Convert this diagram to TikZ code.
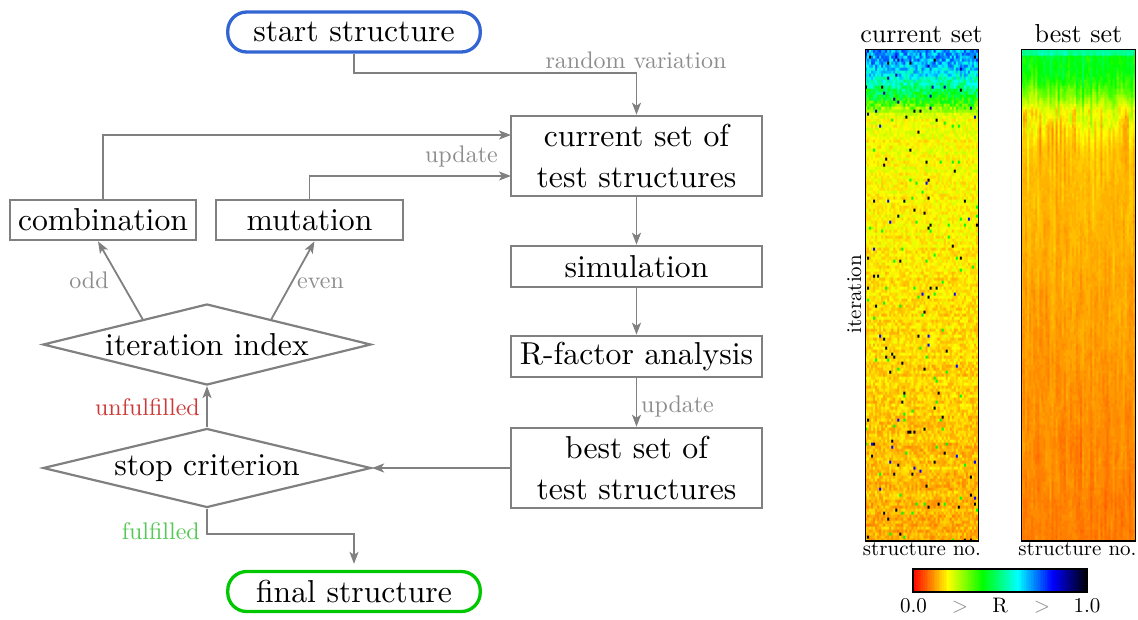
\documentclass[tikz,border=0pt]{standalone}
\usepackage{fontspec}
\setmainfont{lmroman10-regular.otf}
\usetikzlibrary{shapes.geometric,arrows.meta,calc}
\definecolor{lgray}{RGB}{128,128,128}
\definecolor{tgray}{RGB}{140,140,140}
\definecolor{sblue}{RGB}{50,100,210}
\definecolor{fgreen}{RGB}{0,200,0}
\definecolor{ured}{RGB}{205,55,55}
\definecolor{fulgreen}{RGB}{85,200,85}
\newcommand\fmain{\fontsize{31.7}{41}\selectfont}
\newcommand\flab{\fontsize{24}{28}\selectfont}
\newcommand\fhead{\fontsize{26}{30}\selectfont}
\newcommand\fsmall{\fontsize{21}{25}\selectfont}
\newcommand\hexdigit[1]{\ifcase#1 0\or 1\or 2\or 3\or 4\or 5\or 6\or 7\or 8\or 9\or A\or B\or C\or D\or E\or F\fi}
% colour map palette cm0 ... cm100 and hex strings hx0 ... hx100
\newcount\palk
\palk=0
\loop
  \pgfmathsetmacro\palv{\the\palk/100}
  \pgfmathsetmacro\palr{max(0,min(1,2-5*\palv))}
  \pgfmathsetmacro\palg{min(max(0,min(1,5*\palv)),max(0,min(1,4-5*\palv)))}
  \pgfmathsetmacro\palb{min(max(0,min(1,5*\palv-2)),max(0,min(1,5-5*\palv)))}
  \edef\tmpdef{\noexpand\definecolor{cm\the\palk}{rgb}{\palr,\palg,\palb}}\tmpdef
  \pgfmathtruncatemacro\pR{round(\palr*255)}
  \pgfmathtruncatemacro\pG{round(\palg*255)}
  \pgfmathtruncatemacro\pB{round(\palb*255)}
  \pgfmathtruncatemacro\pRh{floor(\pR/16)}\pgfmathtruncatemacro\pRl{\pR-16*\pRh}
  \pgfmathtruncatemacro\pGh{floor(\pG/16)}\pgfmathtruncatemacro\pGl{\pG-16*\pGh}
  \pgfmathtruncatemacro\pBh{floor(\pB/16)}\pgfmathtruncatemacro\pBl{\pB-16*\pBh}
  \expandafter\xdef\csname hx\the\palk\endcsname{\hexdigit{\pRh}\hexdigit{\pRl}\hexdigit{\pGh}\hexdigit{\pGl}\hexdigit{\pBh}\hexdigit{\pBl}}
  \advance\palk by 1
\ifnum\palk<101 \repeat
\makeatletter
% #1 x, #2 y (lower left, pt), #3 width, #4 height (pt), #5 cols, #6 rows, #7 hex data
\newcommand\putimage[7]{%
  \pgfmathsetmacro\imx{#1*0.996264}%
  \pgfmathsetmacro\imy{#2*0.996264}%
  \pgfmathsetmacro\imw{#3*0.996264}%
  \pgfmathsetmacro\imh{#4*0.996264}%
  \edef\imgcmd{q \imw\space 0 0 \imh\space \imx\space \imy\space cm BI /W #5 /H #6 /CS /RGB /BPC 8 /I false /F /AHx ID #7> EI Q}%
  \expandafter\pgfsys@invoke\expandafter{\imgcmd}}
\makeatother
\begin{document}
\begin{tikzpicture}[x=1pt,y=-1pt,
  box/.style={draw=lgray, line width=2.6pt, inner sep=0pt, font=\fmain, align=center, minimum width=251pt},
  term/.style={rounded corners=19pt, line width=3.3pt, inner sep=0pt, minimum width=252.5pt, minimum height=40pt, font=\fmain},
  dia/.style={diamond, draw=lgray, line width=2.2pt, inner sep=0pt},
  conn/.style={draw=lgray, line width=1.8pt},
  arr/.style={conn, -{Stealth[length=12pt,width=9pt,inset=3pt]}},
  glabel/.style={text=tgray, font=\flab, inner sep=0pt},
  hlabel/.style={font=\fsmall, inner sep=0pt}
]
\useasboundingbox (0,0) rectangle (1138,619);

% ---------- flowchart ----------
\node[term, draw=sblue] (start) at (354,32) {start structure};
\node[box, minimum height=80pt] (cur) at (636.5,156) {current set of\\test structures};
\node[box, minimum height=41pt] (sim) at (636.5,266.5) {simulation};
\node[box, minimum height=41pt] (rf) at (636.5,356.5) {R-factor analysis};
\node[box, minimum height=80pt] (best) at (636.5,468) {best set of\\test structures};
\node[box, minimum width=186pt, minimum height=40pt] (comb) at (103,220) {combination};
\node[box, minimum width=187pt, minimum height=40pt] (mut) at (309.5,220) {mutation};
\node[dia, minimum width=328pt, minimum height=81pt, label={[font=\fmain]center:iteration index}] (iter) at (207,344.5) {};
\node[dia, minimum width=328pt, minimum height=79pt, label={[font=\fmain]center:stop criterion}] (stop) at (207,468) {};
\node[term, draw=fgreen] (final) at (354,591.5) {final structure};

\coordinate (rv) at (636.5,73);
\draw[arr] (start.south) |- (rv) -- (cur.north);
\node[glabel, anchor=base] (rvl) at (636,68) {random variation};

\coordinate (ci1) at (511,135);
\coordinate (ci2) at (511,176);
\draw[arr] (comb.north) |- (ci1);
\draw[arr] (mut.north) |- (ci2);
\node[glabel, anchor=base east] (upd1) at (498,162) {update};

\draw[arr] (cur) -- (sim);
\draw[arr] (sim) -- (rf);
\draw[arr] (rf) -- (best);
\node[glabel, anchor=base west] (upd2) at (641,412) {update};

\draw[arr] (best.west) -- (stop.east);
\draw[arr] (stop.north) -- (iter.south);
\node[text=ured, font=\flab, inner sep=0pt, anchor=base east] (unf) at (200,415) {unfulfilled};

\coordinate (o1) at ($(iter.north)!0.39!(iter.west)$);
\coordinate (o2) at ([xshift=-5pt]comb.south);
\draw[arr] (o1) -- (o2);
\coordinate (e1) at ($(iter.north)!0.39!(iter.east)$);
\coordinate (e2) at ([xshift=5pt]mut.south);
\draw[arr] (e1) -- (e2);
\node[glabel, anchor=base] (odd) at (89,288) {odd};
\node[glabel, anchor=base west] (even) at (297,288) {even};

\coordinate (fc) at (354,534);
\draw[arr, shorten >=6pt] (stop.south) |- (fc) -- (final.north);
\node[text=fulgreen, font=\flab, inner sep=0pt, anchor=base east] (ful) at (200,539) {fulfilled};

% ---------- heat map: current set (inline image, 56 x 164 cells, pixels doubled) ----------
\pgfmathsetseed{2024}
\gdef\imgA{}
\foreach \row in {0,...,163}{
  \pgfmathsetmacro\hd{\row*3}
  \pgfmathsetmacro\hm{(\hd<10?0.68:(\hd<25?0.68-(\hd-10)*0.0053:(\hd<35?0.6-(\hd-25)*0.01:(\hd<45?0.5-(\hd-35)*0.006:(\hd<58?0.44-(\hd-45)*0.0108:(\hd<65?0.3-(\hd-58)*0.0114:0.21-(\hd-65)*0.000164))))))+(rnd-0.5)*0.025}
  \pgfmathsetmacro\hamp{\hd<58?0.18:0.07}
  \gdef\rowstr{}
  \foreach \col in {0,...,55}{
    \pgfmathsetmacro\hp{rnd}
    \pgfmathsetmacro\hv{\hp<0.009?1:(\hp<0.022?(\hd<65?0.86:(\hp<0.013?0.8:0.4)):\hm+(rnd-0.5)*\hamp)}
    \pgfmathtruncatemacro\hk{max(0,min(100,round(\hv*100)))}
    \xdef\rowstr{\rowstr\csname hx\hk\endcsname\csname hx\hk\endcsname}
  }
  \xdef\imgA{\imgA\rowstr\rowstr}
}
\putimage{866}{-541}{112}{491}{112}{328}{\imgA}
\draw[black, line width=1.3pt] (865.5,49.5) rectangle (978.5,541);

% ---------- heat map: best set (inline image, 56 x 164 cells, pixels doubled) ----------
\foreach \col in {0,...,55}{\expandafter\xdef\csname bo\col\endcsname{0}}
\gdef\imgB{}
\foreach \row in {0,...,163}{
  \pgfmathsetmacro\hd{\row*3}
  \pgfmathsetmacro\hm{\hd<5?0.52:(\hd<25?0.42-(\hd-5)*0.001:(\hd<45?0.40-(\hd-25)*0.005:(\hd<60?0.30-(\hd-45)*0.0067:(\hd<100?0.20-(\hd-60)*0.00125:0.15-(\hd-100)*0.00014))))}
  \pgfmathsetmacro\hamp{\hd<80?0.05:0.014}
  \gdef\rowstr{}
  \foreach \col in {0,...,55}{
    \edef\bprev{\csname bo\col\endcsname}
    \pgfmathsetmacro\bnew{0.9*\bprev+(rnd-0.5)*\hamp}
    \expandafter\xdef\csname bo\col\endcsname{\bnew}
    \pgfmathtruncatemacro\hk{max(0,min(100,round((\hm+\bnew)*100)))}
    \xdef\rowstr{\rowstr\csname hx\hk\endcsname\csname hx\hk\endcsname}
  }
  \xdef\imgB{\imgB\rowstr\rowstr}
}
\putimage{1022}{-541}{113}{491}{112}{328}{\imgB}
\draw[black, line width=1.3pt] (1021.5,49.5) rectangle (1135.5,541);

% ---------- heat map labels ----------
\node[font=\fhead, inner sep=0pt, anchor=base] (hcur) at (921.5,42) {current set};
\node[font=\fhead, inner sep=0pt, anchor=base] (hbest) at (1078.5,42) {best set};
\node[hlabel, anchor=base] (sn1) at (922,555) {structure no.};
\node[hlabel, anchor=base] (sn2) at (1077.5,555) {structure no.};
\node[hlabel, anchor=base, rotate=90] (itl) at (861,294) {iteration};

% ---------- colour bar ----------
\foreach \i in {0,...,174}{
  \pgfmathtruncatemacro\hk{round(\i/174*100)}
  \fill[cm\hk] (913+\i,569) rectangle ++(1.4,23);
}
\draw[black, line width=1.2pt] (913,569) rectangle (1087.5,592);
\node[hlabel, anchor=base] (cb0) at (913.5,612) {0.0};
\node[hlabel, anchor=base, text=tgray] (cbg1) at (960,612) {>};
\node[hlabel, anchor=base] (cbr) at (1000,612) {R};
\node[hlabel, anchor=base, text=tgray] (cbg2) at (1042,612) {>};
\node[hlabel, anchor=base] (cb1) at (1087,612) {1.0};
\end{tikzpicture}
\end{document}
